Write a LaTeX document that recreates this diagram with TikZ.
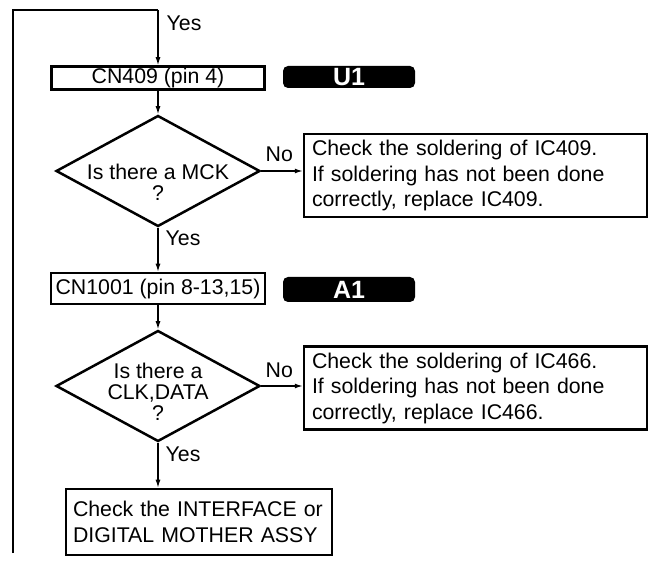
\documentclass[tikz,border=0pt]{standalone}
\usepackage{fontspec}
\setmainfont{Liberation Sans}
\usetikzlibrary{shapes.geometric,arrows.meta}

\begin{document}
\begin{tikzpicture}[x=1pt, y=-1pt, >={Latex[length=8pt,width=5pt]}, line width=1.3pt,
  every node/.style={font=\fontsize{21.3}{25.5}\selectfont},
  box/.style={draw, line width=2.5pt, inner sep=0pt},
  msgbox/.style={box, align=left, text width=327pt, minimum width=343pt, minimum height=83pt},
  badge/.style={fill=black, rounded corners=5pt, text=white, inner sep=0pt, minimum width=132pt,
    font=\fontsize{25}{25}\selectfont\bfseries},
  decision/.style={draw, diamond, line width=2.5pt, inner sep=0pt, minimum width=204pt, minimum height=111pt},
  qtext/.style={align=center, inner sep=0pt, font=\fontsize{21.3}{21}\selectfont},
  lbl/.style={anchor=base west, inner sep=0pt}]
  \useasboundingbox (0,0) rectangle (654,561);

  % 左侧回线
  \coordinate (corner) at (13,10);
  \coordinate (start) at (158,10);
  \coordinate (end) at (13,553);
  \draw (end) -- (corner) -- (start);

  % 第一段 CN409
  \node[box, minimum width=213pt, minimum height=23pt] (cn409) at (158,78) {CN409 (pin 4)};
  \node[badge, minimum height=22pt] (u1) at (349,77) {U1};
  \node[decision] (q1) at (158,171) {};
  \node[qtext] (q1t) at (158,182) {Is there a MCK\\?};
  \node[msgbox] (r1) at (475.5,175.5) {Check the soldering of IC409.\\If soldering has not been done\\correctly, replace IC409.};

  \draw[->] (start) -- (cn409.north) node[lbl, pos=0.38, xshift=8pt] (yes0) {Yes};
  \draw[->] (cn409.south) -- (q1.north);
  \draw[->] (q1.east) -- (q1.east -| r1.west);
  \node[lbl] (no1) at (265,162) {No};

  % 第二段 CN1001
  \node[box, minimum width=214pt, minimum height=31pt] (cn1001) at (158,288.5) {CN1001 (pin 8-13,15)};
  \node[badge, minimum height=25pt] (a1) at (349,289.5) {A1};
  \node[decision] (q2) at (158,386) {};
  \node[qtext] (q2t) at (158,391.5) {Is there a\\CLK,DATA\\?};
  \node[msgbox] (r2) at (475.5,388) {Check the soldering of IC466.\\If soldering has not been done\\correctly, replace IC466.};

  \draw[->] (q1.south) -- (cn1001.north);
  \node[lbl] (yes1) at (165,246) {Yes};
  \draw[->] (cn1001.south) -- (q2.north);
  \draw[->] (q2.east) -- (q2.east -| r2.west);
  \node[lbl] (no2) at (265,378) {No};

  % 结果
  \node[box, align=left, text width=252pt, minimum width=266pt, minimum height=66pt] (assy) at (199,522)
    {Check the INTERFACE or\\DIGITAL MOTHER ASSY};
  \draw[->] (q2.south) -- (q2.south |- assy.north);
  \node[lbl] (yes2) at (165,462) {Yes};
\end{tikzpicture}
\end{document}
